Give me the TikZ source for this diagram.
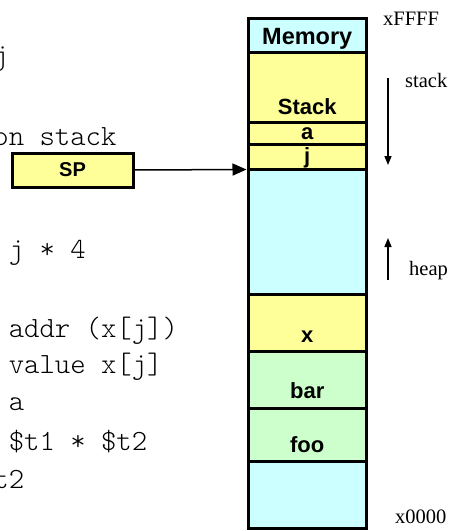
\documentclass[tikz,border=0pt]{standalone}
\usepackage{fontspec}
\setmainfont{Liberation Serif}
\setsansfont{Liberation Sans}
\newfontfamily\codefont{Latin Modern Mono Light}
\usetikzlibrary{arrows.meta}
\definecolor{memcyan}{HTML}{CCFFFF}
\definecolor{memyellow}{HTML}{FFFF99}
\definecolor{memgreen}{HTML}{CCFFCC}
\tikzset{
  cell/.style={draw, line width=3pt, minimum width=118.5pt, inner sep=0pt, outer sep=0pt, anchor=north},
  celltext/.style={font=\sffamily\bfseries\fontsize{22}{26}\selectfont, anchor=base, inner sep=0pt},
  code/.style={font=\codefont\fontsize{29.3}{34}\selectfont, anchor=base west, inner sep=0pt},
  addr/.style={font=\fontsize{20.5}{24}\selectfont, anchor=base west, inner sep=0pt},
}
\begin{document}
\begin{tikzpicture}[x=1pt,y=-1pt]
\useasboundingbox (0,0) rectangle (451,531);
\clip (0,0) rectangle (451,531);
% code lines, cut off at the left edge
\node[code] (c1) at (-6.8,64) {j};
\node[code] (c2) at (-6.8,145) {on stack};
\node[code] (c3) at (8.6,258) {j * 4};
\node[code] (c4) at (8.6,337) {addr (x[j])};
\node[code] (c5) at (8.6,373) {value x[j]};
\node[code] (c6) at (8.6,410) {a};
\node[code] (c7) at (8.6,450) {\$t1 * \$t2};
\node[code] (c8) at (-6.8,488) {t2};
% memory column
\node[cell, fill=memcyan, minimum height=33.5pt] (mem) at (307.25,18.5) {};
\node[cell, fill=memyellow, minimum height=70.5pt] (stk) at (mem.south) {};
\node[cell, fill=memyellow, minimum height=22pt] (acell) at (stk.south) {};
\node[cell, fill=memyellow, minimum height=25pt] (jcell) at (acell.south) {};
\node[cell, fill=memcyan, minimum height=125pt] (free) at (jcell.south) {};
\node[cell, fill=memyellow, minimum height=57pt] (xcell) at (free.south) {};
\node[cell, fill=memgreen, minimum height=56.5pt] (bar) at (xcell.south) {};
\node[cell, fill=memgreen, minimum height=53pt] (foo) at (bar.south) {};
\node[cell, fill=memcyan, minimum height=67pt] (low) at (foo.south) {};
\node[celltext, font=\sffamily\bfseries\fontsize{23.5}{26}\selectfont] (memlbl) at ([yshift=8pt]mem.south) {Memory};
\node[celltext] (stklbl) at ([yshift=8pt]stk.south) {Stack};
\node[celltext] (albl) at ([yshift=5pt]acell.south) {a};
\node[celltext] (jlbl) at ([yshift=6pt]jcell.south) {j};
\node[celltext] (xlbl) at ([yshift=9pt]xcell.south) {x};
\node[celltext] (barlbl) at ([yshift=10pt]bar.south) {bar};
\node[celltext] (foolbl) at ([yshift=8.5pt]foo.south) {foo};
% stack pointer
\node[draw, line width=3pt, fill=memyellow, minimum width=121pt, minimum height=34pt,
  inner sep=0pt, outer sep=0pt, font=\sffamily\bfseries\fontsize{20}{24}\selectfont] (sp) at (72.5,170) {SP};
\draw[line width=1.5pt, shorten >=1.5pt, -{Triangle[length=14pt,width=12pt]}] (sp.east) -- (jcell.south west);
% growth directions
\node[addr] (hi) at (383,25) {xFFFF};
\node[addr] (stackdir) at (405,87) {stack};
\node[addr] (heapdir) at (409,275) {heap};
\node[addr] (lo) at (395,523) {x0000};
\coordinate (stacktop) at (388,78);
\coordinate (stackend) at (388,165);
\coordinate (heapbot) at (388,280);
\coordinate (heapend) at (388,238);
\draw[line width=1.5pt, -{Triangle[length=9pt,width=7pt]}] (stacktop) -- (stackend);
\draw[line width=1.5pt, -{Triangle[length=9pt,width=7pt]}] (heapbot) -- (heapend);
\end{tikzpicture}
\end{document}
